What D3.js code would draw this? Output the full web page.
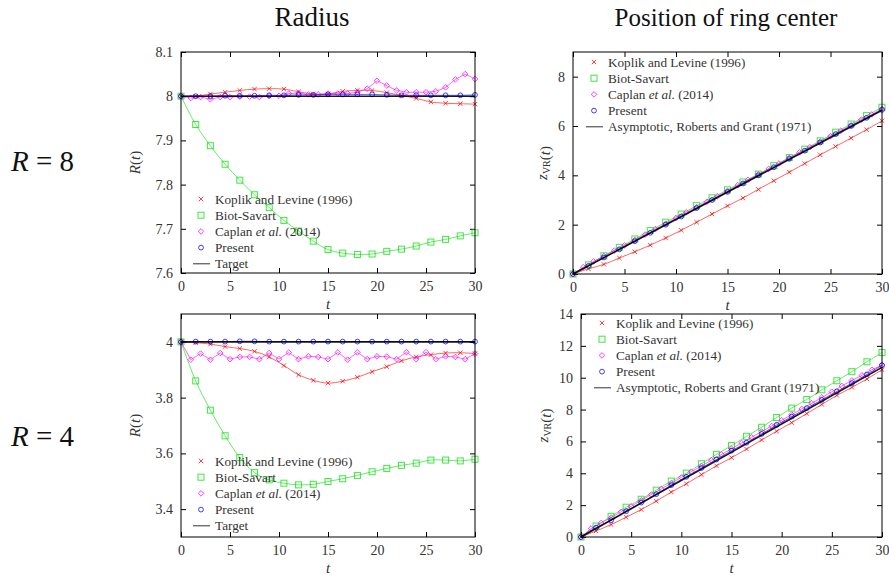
<!DOCTYPE html>
<html>
<head>
<meta charset="utf-8">
<script src="https://cdn.jsdelivr.net/npm/d3@7"></script>
<style>
  body { margin: 0; background: #fff; }
</style>
</head>
<body>
<svg width="889" height="577"></svg>
<script>
// time samples
const tCoarse = [0, 1.5, 3, 4.5, 6, 7.5, 9, 10.5, 12, 13.5, 15, 16.5, 18, 19.5, 21, 22.5, 24, 25.5, 27, 28.5, 30];
const tFine   = [0, 1, 2, 3, 4, 5, 6, 7, 8, 9, 10, 11, 12, 13, 14, 15, 16, 17, 18, 19, 20, 21, 22, 23, 24, 25, 26, 27, 28, 29, 30];
const tEnds   = [0, 30];

const xTicks = [0, 5, 10, 15, 20, 25, 30];

// R = 8, radius
const koplikR8  = [8.0, 8.0, 8.005, 8.009, 8.013, 8.016, 8.017, 8.016, 8.010, 8.005, 8.005, 8.011, 8.013, 8.013, 8.008, 8.002, 7.995, 7.987, 7.984, 7.983, 7.982];
const biotR8    = [8.0, 7.936, 7.888, 7.846, 7.810, 7.777, 7.748, 7.719, 7.695, 7.672, 7.653, 7.645, 7.642, 7.643, 7.649, 7.654, 7.661, 7.670, 7.676, 7.684, 7.691];
const caplanR8  = [8.0, 7.996, 7.998, 7.993, 7.998, 7.998, 7.999, 7.999, 7.998, 8.0, 8.001, 8.006, 8.007, 8.004, 8.004, 8.006, 8.006, 8.006, 8.009, 8.017, 8.035, 8.024, 8.013, 8.009, 8.009, 8.009, 8.011, 8.020, 8.038, 8.050, 8.039];
const presentR8 = [8.0, 8.0, 8.0, 8.001, 8.001, 8.001, 8.002, 8.002, 8.003, 8.003, 8.004, 8.004, 8.004, 8.004, 8.003, 8.002, 8.002, 8.002, 8.002, 8.002, 8.003];
const targetR8  = [8, 8];

// R = 4, radius
const koplikR4  = [4.0, 3.997, 3.992, 3.983, 3.976, 3.966, 3.946, 3.915, 3.882, 3.862, 3.852, 3.859, 3.873, 3.893, 3.911, 3.932, 3.946, 3.954, 3.960, 3.961, 3.958];
const biotR4    = [4.0, 3.860, 3.755, 3.663, 3.585, 3.531, 3.505, 3.493, 3.487, 3.489, 3.499, 3.509, 3.521, 3.534, 3.546, 3.557, 3.565, 3.576, 3.576, 3.573, 3.579];
const caplanR4  = [4.0, 3.936, 3.958, 3.936, 3.960, 3.938, 3.946, 3.946, 3.938, 3.960, 3.938, 3.962, 3.938, 3.948, 3.946, 3.938, 3.962, 3.936, 3.962, 3.938, 3.948, 3.947, 3.938, 3.963, 3.938, 3.963, 3.938, 3.948, 3.946, 3.938, 3.958];
const presentR4 = [4.0, 4.001, 4.001, 4.001, 4.002, 4.002, 4.001, 4.001, 4.001, 4.001, 4.001, 4.001, 4.001, 4.001, 4.001, 4.001, 4.001, 4.001, 4.001, 4.001, 4.001];
const targetR4  = [4, 4];

// R = 8, ring centre
const koplikZ8  = [0, 0.21, 0.39, 0.65, 0.90, 1.17, 1.46, 1.77, 2.10, 2.43, 2.76, 3.08, 3.43, 3.78, 4.13, 4.48, 4.83, 5.17, 5.51, 5.85, 6.21];
const biotZ8    = [0, 0.37, 0.74, 1.08, 1.42, 1.76, 2.10, 2.43, 2.77, 3.09, 3.41, 3.73, 4.05, 4.39, 4.72, 5.06, 5.40, 5.75, 6.08, 6.42, 6.76];
const caplanZ8  = [0, 0.28, 0.51, 0.73, 0.95, 1.16, 1.38, 1.60, 1.82, 2.04, 2.27, 2.50, 2.71, 2.93, 3.15, 3.37, 3.60, 3.82, 4.04, 4.26, 4.48, 4.71, 4.93, 5.14, 5.37, 5.59, 5.81, 6.03, 6.26, 6.47, 6.70];
const presentZ8 = [0, 0.33, 0.67, 1.0, 1.33, 1.67, 2.0, 2.33, 2.67, 3.0, 3.33, 3.67, 4.0, 4.33, 4.67, 5.0, 5.33, 5.67, 6.0, 6.33, 6.65];
const asymZ8    = [0, 6.64];

// R = 4, ring centre
const koplikZ4  = [0, 0.38, 0.78, 1.24, 1.72, 2.25, 2.82, 3.34, 3.91, 4.47, 4.98, 5.52, 6.09, 6.64, 7.18, 7.75, 8.32, 8.89, 9.39, 9.92, 10.50];
const biotZ4    = [0, 0.69, 1.30, 1.87, 2.37, 2.94, 3.51, 4.01, 4.60, 5.19, 5.74, 6.32, 6.89, 7.50, 8.09, 8.63, 9.24, 9.81, 10.38, 11.00, 11.58];
const caplanZ4  = [0, 0.53, 0.88, 1.22, 1.58, 1.93, 2.30, 2.66, 3.02, 3.38, 3.74, 4.10, 4.46, 4.82, 5.18, 5.54, 5.90, 6.26, 6.62, 6.97, 7.33, 7.69, 8.04, 8.40, 8.76, 9.12, 9.48, 9.83, 10.15, 10.50, 10.80];
const presentZ4 = [0, 0.59, 1.05, 1.62, 2.16, 2.69, 3.26, 3.78, 4.33, 4.87, 5.42, 5.92, 6.47, 7.04, 7.56, 8.09, 8.61, 9.14, 9.66, 10.21, 10.78];
const asymZ4    = [0, 10.65];

const namesLeft  = ["Koplik and Levine (1996)", "Biot-Savart", "Caplan et al. (2014)", "Present", "Target"];
const namesRight = ["Koplik and Levine (1996)", "Biot-Savart", "Caplan et al. (2014)", "Present", "Asymptotic, Roberts and Grant (1971)"];

const colors  = ["#ff0000", "#00e000", "#ff00ff", "#0000ff", "#000000"];
const symbols = ["cross", "square", "diamond", "circle", "line"];

const FONT = "Liberation Serif";
const svg = d3.select("svg").style("font-family", FONT);

const panels = [
  { box: [181, 52, 475, 273], ydom: [7.6, 8.1], yticks: [7.6, 7.7, 7.8, 7.9, 8, 8.1], ylab: "R", labx: 140,
    ys: [koplikR8, biotR8, caplanR8, presentR8, targetR8], names: namesLeft, leg: [201, 199] },
  { box: [181, 314, 475, 537], ydom: [3.3, 4.1], yticks: [3.4, 3.6, 3.8, 4], ylab: "R", labx: 140,
    ys: [koplikR4, biotR4, caplanR4, presentR4, targetR4], names: namesLeft, leg: [201, 461] },
  { box: [573, 52, 882, 274], ydom: [0, 9], yticks: [0, 2, 4, 6, 8], ylab: "z", labx: 547,
    ys: [koplikZ8, biotZ8, caplanZ8, presentZ8, asymZ8], names: namesRight, leg: [594, 62] },
  { box: [581, 314, 882, 537], ydom: [0, 14], yticks: [0, 2, 4, 6, 8, 10, 12, 14], ylab: "z", labx: 548,
    ys: [koplikZ4, biotZ4, caplanZ4, presentZ4, asymZ4], names: namesRight, leg: [602, 323] }
];

function drawMarker(g, kind, color) {
  if (kind === "cross") {
    g.append("path").attr("d", "M-2.2,-2.2L2.2,2.2M-2.2,2.2L2.2,-2.2")
      .attr("stroke", color).attr("stroke-width", 1).attr("fill", "none");
  } else if (kind === "square") {
    g.append("rect").attr("x", -3).attr("y", -3).attr("width", 6).attr("height", 6)
      .attr("stroke", color).attr("stroke-width", 1).attr("fill", "none");
  } else if (kind === "diamond") {
    g.append("path").attr("d", "M0,-2.8L2.8,0L0,2.8L-2.8,0Z")
      .attr("stroke", color).attr("stroke-width", 1).attr("fill", "none");
  } else if (kind === "circle") {
    g.append("circle").attr("r", 2.4)
      .attr("stroke", color).attr("stroke-width", 1).attr("fill", "none");
  }
}

panels.forEach(p => {
  const [x0, y0, x1, y1] = p.box;
  const x = d3.scaleLinear().domain([0, 30]).range([x0, x1]);
  const y = d3.scaleLinear().domain(p.ydom).range([y1, y0]);
  const g = svg.append("g");

  // ticks, inward, on all four sides
  const fmt = d3.format("~g");
  g.append("g").attr("transform", `translate(0,${y1})`)
    .call(d3.axisBottom(x).tickValues(xTicks).tickSizeInner(-5).tickSizeOuter(0).tickPadding(8).tickFormat(fmt));
  g.append("g").attr("transform", `translate(0,${y0})`)
    .call(d3.axisTop(x).tickValues(xTicks).tickSizeInner(-5).tickSizeOuter(0).tickFormat(""));
  g.append("g").attr("transform", `translate(${x0},0)`)
    .call(d3.axisLeft(y).tickValues(p.yticks).tickSizeInner(-5).tickSizeOuter(0).tickPadding(8).tickFormat(fmt));
  g.append("g").attr("transform", `translate(${x1},0)`)
    .call(d3.axisRight(y).tickValues(p.yticks).tickSizeInner(-5).tickSizeOuter(0).tickFormat(""));
  g.selectAll(".domain").remove();
  g.selectAll("g").attr("font-family", null);
  g.selectAll(".tick line").attr("stroke", "#000");
  g.selectAll(".tick text").attr("font-size", 14).attr("fill", "#333");

  // series
  p.ys.forEach((vals, i) => {
    const ts = vals.length === 2 ? tEnds : (vals.length === 31 ? tFine : tCoarse);
    const pts = ts.map((t, k) => [t, vals[k]]);
    const line = d3.line().x(d => x(d[0])).y(d => y(d[1]))
      .curve(i === 2 || i === 4 ? d3.curveLinear : d3.curveCatmullRom);
    g.append("path").datum(pts).attr("d", line)
      .attr("fill", "none").attr("stroke", colors[i])
      .attr("stroke-width", i === 4 ? 1.6 : 1)
      .attr("stroke-opacity", i === 4 ? 0.9 : 0.6);
    if (i < 4) {
      pts.forEach(d => {
        const m = g.append("g").attr("transform", `translate(${x(d[0])},${y(d[1])})`)
          .attr("opacity", 0.75);
        drawMarker(m, symbols[i], colors[i]);
      });
    }
  });

  // frame
  g.append("rect").attr("x", x0).attr("y", y0).attr("width", x1 - x0).attr("height", y1 - y0)
    .attr("fill", "none").attr("stroke", "#000").attr("stroke-width", 1);

  // legend
  const [lx, ly] = p.leg;
  p.names.forEach((name, i) => {
    const yy = ly + i * 16.2;
    if (i < 4) {
      const m = g.append("g").attr("transform", `translate(${lx},${yy})`).attr("opacity", 0.75);
      drawMarker(m, symbols[i], colors[i]);
    } else {
      g.append("line").attr("x1", lx - 8).attr("x2", lx + 9).attr("y1", yy).attr("y2", yy)
        .attr("stroke", "#333").attr("stroke-width", 1);
    }
    const tx = g.append("text").attr("x", lx + 14).attr("y", yy + 4.5)
      .attr("font-size", 13.2).attr("fill", "#333");
    if (name.indexOf("et al.") >= 0) {
      tx.append("tspan").text("Caplan ");
      tx.append("tspan").attr("font-style", "italic").text("et al.");
      tx.append("tspan").text(" (2014)");
    } else {
      tx.text(name);
    }
  });

  // axis labels
  g.append("text").attr("x", (x0 + x1) / 2).attr("y", y1 + 36)
    .attr("text-anchor", "middle").attr("font-size", 15).attr("fill", "#333")
    .attr("font-style", "italic").text("t");
  const yl = g.append("text")
    .attr("transform", `translate(${p.labx},${(y0 + y1) / 2}) rotate(-90)`)
    .attr("text-anchor", "middle").attr("font-size", 15).attr("fill", "#333");
  if (p.ylab === "R") {
    yl.append("tspan").attr("font-style", "italic").text("R");
  } else {
    yl.append("tspan").attr("font-style", "italic").text("z");
    yl.append("tspan").attr("font-size", 10).attr("dy", 3).text("VR");
    yl.append("tspan").attr("dy", -3).text("");
  }
  yl.append("tspan").text("(");
  yl.append("tspan").attr("font-style", "italic").text("t");
  yl.append("tspan").text(")");
});

// column titles
svg.append("text").attr("x", 312).attr("y", 26).attr("text-anchor", "middle")
  .attr("font-size", 27).attr("fill", "#111").text("Radius");
svg.append("text").attr("x", 726).attr("y", 26).attr("text-anchor", "middle")
  .attr("font-size", 25).attr("fill", "#111").text("Position of ring center");

// row labels
[["8", 171], ["4", 446]].forEach(([v, yy]) => {
  const t = svg.append("text").attr("x", 11).attr("y", yy).attr("font-size", 29).attr("fill", "#111");
  t.append("tspan").attr("font-style", "italic").text("R");
  t.append("tspan").text(" = " + v);
});
</script>
</body>
</html>
